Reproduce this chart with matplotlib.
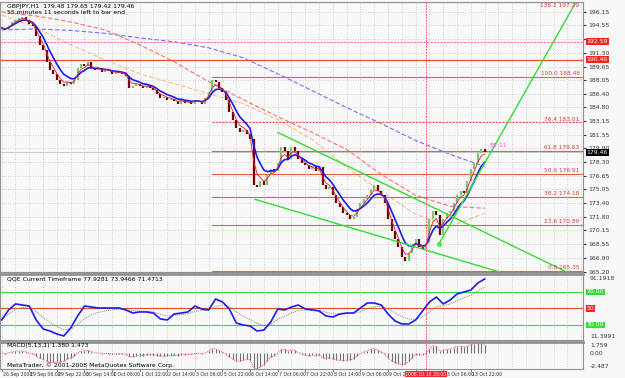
import numpy as np
import pandas as pd
import matplotlib
matplotlib.use('Agg')
import matplotlib.pyplot as plt
import matplotlib.transforms as mtransforms

plt.rcParams['font.family'] = ['Liberation Sans Narrow', 'DejaVu Sans']

# GBPJPY H1, one close for every two hourly bars
closes = [194.25, 194.01, 194.49, 194.96, 195.20, 195.44, 195.55, 195.20, 194.72, 194.49,
          193.30, 192.23, 191.64, 190.22, 189.27, 188.79, 188.08, 187.61, 187.37, 187.84,
          187.61, 188.08, 189.50, 189.98, 189.74, 190.22, 189.50, 189.27, 189.50, 189.03,
          189.27, 189.15, 188.79, 189.03, 188.91, 188.79, 188.56, 187.13, 187.37, 187.61,
          187.37, 187.13, 187.37, 187.13, 186.90, 186.42, 185.95, 186.07, 185.71, 185.83,
          185.59, 185.24, 185.71, 185.35, 185.47, 185.24, 185.71, 185.59, 185.24, 185.95,
          186.66, 188.08, 187.84, 187.13, 186.66, 185.71, 184.29, 183.34, 182.39, 181.91,
          182.15, 181.68, 180.97, 175.51, 175.27, 175.98, 175.51, 176.70, 177.41, 177.17,
          178.12, 180.02, 179.54, 178.59, 180.02, 179.54, 178.59, 178.12, 177.88, 177.41,
          177.65, 177.17, 177.65, 175.51, 175.04, 175.27, 174.32, 173.38, 172.90, 172.19,
          171.95, 171.48, 171.72, 172.66, 173.38, 173.85, 174.32, 175.04, 175.51, 174.80,
          174.32, 173.38, 171.48, 170.05, 169.11, 168.16, 166.97, 166.50, 167.45, 168.39,
          169.11, 168.16, 167.92, 168.63, 171.48, 172.43, 171.95, 169.58, 171.48, 172.19,
          172.43, 173.38, 174.32, 174.80, 174.56, 175.98, 177.41, 178.12, 179.31, 179.78,
          179.46]

# slow moving averages, sampled every 10 values
ma_idx = [0, 10, 20, 30, 40, 50, 60, 70, 80, 90, 100, 110, 120, 130, 140]
ma_blue_slow = [194.01, 194.13, 193.95, 193.60, 193.06, 192.59, 191.88, 190.69, 188.79, 186.78,
                184.76, 182.86, 180.85, 179.19, 177.76]
ma_red_slow = [196.15, 195.67, 194.96, 194.01, 192.23, 190.22, 187.84, 185.71, 183.69, 181.80,
               179.78, 176.82, 174.32, 173.02, 172.78]
ma_orange_slow = [195.79, 194.25, 192.23, 190.45, 188.79, 187.61, 186.42, 185.24, 183.34, 180.97,
                  177.65, 174.80, 172.07, 170.65, 172.19]

# QQE fast line, every second value
qqe_fast = [36.1, 48.2, 55.5, 54.2, 53.0, 36.1, 25.2, 22.7, 19.1, 16.7,
            26.4, 40.9, 53.0, 51.8, 50.6, 50.6, 50.6, 50.6, 48.2, 44.5,
            45.8, 45.8, 44.5, 37.3, 36.1, 43.3, 44.5, 45.8, 53.0, 49.4,
            48.2, 61.5, 57.9, 49.4, 32.4, 30.0, 28.8, 22.7, 23.9, 33.6,
            49.4, 48.2, 51.8, 54.2, 49.4, 48.2, 47.0, 40.9, 39.7, 43.3,
            44.5, 44.5, 50.6, 56.7, 56.7, 54.2, 43.3, 34.9, 31.2, 31.2,
            36.1, 47.0, 57.9, 63.9, 55.5, 60.3, 67.6, 70.0, 72.4, 80.9, 85.8]

# fibonacci retracement and trend lines
fib_low, fib_high = 165.35, 188.46
fib_levels = [0.0, 23.6, 38.2, 50.0, 61.8, 76.4, 100.0, 138.2]
fib_start = 61
upper_channel = ([80.1, 165.6], [181.80, 164.84])
lower_channel = ([73.4, 147.3], [173.85, 164.84])
breakout_line = ([126.7, 166.8], [168.51, 197.57])
hline_red = 190.46
hline_pink = 192.59
vline_bar = 123

price_ticks = [196.15, 194.55, 192.90, 191.30, 189.65, 188.05, 186.40, 184.80, 183.15, 181.55,
               179.90, 178.30, 176.65, 175.05, 173.40, 171.80, 170.15, 168.55, 166.90, 165.20]
time_labels = ['26 Sep 2008', '29 Sep 06:00', '29 Sep 22:00', '30 Sep 14:00', '1 Oct 06:00',
               '1 Oct 22:00', '2 Oct 14:00', '3 Oct 06:00', '5 Oct 22:00', '6 Oct 14:00',
               '7 Oct 06:00', '7 Oct 22:00', '8 Oct 14:00', '9 Oct 06:00', '9 Oct 22:00',
               '10 Oct 14:00', '13 Oct 06:00', '13 Oct 22:00']

W, H = 625, 378
bg = '#f8f8f8'
fs = 4.4

def box(x0, y0, x1, y1):
    return [x0 / W, 1 - y1 / H, (x1 - x0) / W, (y1 - y0) / H]

fig = plt.figure(figsize=(W / 100, H / 100), dpi=100, facecolor=bg)
ax = fig.add_axes(box(0, 2, 583, 272))
ax2 = fig.add_axes(box(0, 274, 583, 340), sharex=ax)
ax3 = fig.add_axes(box(0, 342, 583, 369), sharex=ax)

n = len(closes)
idx = np.arange(n)
s = pd.Series(closes)
opens = [closes[0]] + closes[:-1]

for a in (ax, ax2, ax3):
    a.set_facecolor(bg)
    a.yaxis.tick_right()
    a.tick_params(axis='y', labelsize=fs, length=2, pad=1.5, colors='#333333')
    a.tick_params(axis='x', length=0, labelbottom=False)
    a.set_xticks(np.arange(0, 169, 4))
    a.grid(axis='x', color='#c4c4c4', ls=(0, (1, 2)), lw=0.6)
    for sp in a.spines.values():
        sp.set_color('#909090')
        sp.set_linewidth(0.8)
ax.grid(axis='y', color='#c4c4c4', ls=(0, (1, 2)), lw=0.6)
ax.set_xlim(-0.49, 168.5)

# --- main price panel ---
ax.set_ylim(165.31, 197.33)
ax.set_yticks(price_ticks)
# label under the red price box is hidden
hidden = (192.90,)
ax.set_yticklabels(['' if v in hidden else '%.2f' % v for v in price_ticks])

ax.plot(ma_idx, ma_blue_slow, color='#7070ff', lw=0.8, ls=(0, (4, 2)))
ax.plot(ma_idx, ma_red_slow, color='#ff7070', lw=0.8, ls=(0, (4, 2)))
ax.plot(ma_idx, ma_orange_slow, color='#f5c08a', lw=0.8, ls=(0, (4, 2)))

ax.axhline(hline_pink, color='#ff70b0', lw=0.8, ls=(0, (2, 1)))
ax.axhline(hline_red, color='#e8503a', lw=0.9)
ax.axhline(closes[-1], color='#c0c0c0', lw=0.6)

for lvl in fib_levels:
    p = fib_low + lvl / 100 * (fib_high - fib_low)
    ls = (0, (2, 1)) if lvl in (76.4, 138.2) else '-'
    ax.plot([fib_start, 168.5], [p, p], color='#e8604a', lw=0.8, ls=ls)
    va, dy = ('top', -0.05) if lvl == 138.2 else ('bottom', 0.1)
    ax.text(167.5, p + dy, '%.1f %.2f' % (lvl, p), fontsize=fs - 0.2, color='#d04040',
            ha='right', va=va)

for o, c, i in zip(opens, closes, idx):
    col = '#7cc47c' if c >= o else '#700000'
    ax.vlines(i, min(o, c), max(o, c), color=col, lw=1.6)

ax.plot(idx, s.ewm(span=6).mean(), color='#1c1cf0', lw=1.2)
ax.plot(idx, s.ewm(span=3).mean(), color='#e02020', lw=0.6)

for xs, ys in (upper_channel, lower_channel, breakout_line):
    ax.plot(xs, ys, color='#33dd33', lw=1.0)
ax.plot(breakout_line[0][0], breakout_line[1][0], 'o', mfc='none', mec='#33dd33', ms=2.5)

ax.text(1.5, 197.1, 'GBPJPY,H1  179.48 179.65 179.42 179.46', fontsize=fs, va='top')
ax.text(1.5, 196.35, '55 minutes 11 seconds left to bar end', fontsize=fs, va='top')
ax.text(141.5, closes[-1] + 0.6, '55:11', fontsize=fs, color='#ff40ff')

trans = mtransforms.blended_transform_factory(ax.transAxes, ax.transData)
for val, txt, col in ((hline_pink, '192.59', '#ff2020'), (hline_red, '190.46', '#ff2020'),
                      (closes[-1], '179.46', '#000000')):
    ax.text(1.006, val, txt, transform=trans, fontsize=fs, color='white', va='center', zorder=5,
            bbox=dict(boxstyle='square,pad=0.15', fc=col, ec='none'))

for a in (ax, ax2, ax3):
    a.axvline(vline_bar, color='#ff6060', lw=0.7, ls=(0, (2, 1)))

# --- QQE panel ---
qidx = idx[::2]
ax2.set_ylim(11.8, 91.8)
ax2.set_yticks([])
ax2.axhline(70, color='#33dd33', lw=0.8)
ax2.axhline(30, color='#33dd33', lw=0.8)
ax2.axhline(50, color='#e05030', lw=0.8)
q = pd.Series(qqe_fast)
ax2.plot(qidx, q.ewm(span=5).mean(), color='#888888', lw=0.7, ls=(0, (1, 1)))
ax2.plot(qidx, q, color='#1c1cf0', lw=1.2)
ax2.spines['top'].set_linewidth(2)
ax2.text(1.5, 89, 'QQE Current Timeframe 77.9281 73.9466 71.4713', fontsize=fs, va='top')
trans2 = mtransforms.blended_transform_factory(ax2.transAxes, ax2.transData)
ax2.text(1.012, 89.5, '91.1918', transform=trans2, fontsize=fs, va='top', color='#333333')
ax2.text(1.012, 13.5, '11.3991', transform=trans2, fontsize=fs, va='bottom', color='#333333')
for val, txt, col in ((70, '70.00', '#33dd33'), (50, '50', '#ff2020'), (30, '30.00', '#33dd33')):
    ax2.text(1.006, val, txt, transform=trans2, fontsize=fs, color='white', va='center',
             bbox=dict(boxstyle='square,pad=0.15', fc=col, ec='none'))

# --- MACD panel ---
macd = s.ewm(span=3, adjust=False).mean() - s.ewm(span=7, adjust=False).mean()
ax3.set_ylim(-2.487, 1.759)
ax3.set_yticks([])
trans3y = mtransforms.blended_transform_factory(ax3.transAxes, ax3.transData)
ax3.text(1.012, 1.6, '1.759', transform=trans3y, fontsize=fs, va='top', color='#333333')
ax3.text(1.012, 0, '0.00', transform=trans3y, fontsize=fs, va='center', color='#333333')
ax3.text(1.012, -2.487, '-2.487', transform=trans3y, fontsize=fs, va='bottom', color='#333333')
ax3.vlines(idx, 0, macd, color='#707070', lw=0.8)
ax3.plot(idx, macd, color='#ff5050', lw=0.7, ls=(0, (1, 1)))
ax3.spines['top'].set_linewidth(2)
ax3.text(1.5, 1.6, 'MACD(5,13,1) 1.380 1.473', fontsize=fs, va='top')
ax3.text(1.5, -2.35, 'MetaTrader, \u00a9 2001-2008 MetaQuotes Software Corp.', fontsize=fs, va='bottom')

trans3 = mtransforms.blended_transform_factory(ax3.transData, ax3.transAxes)
for k, lab in enumerate(time_labels):
    j = 8 * k
    ax3.plot([j, j], [0, -0.08], transform=trans3, color='#666666', lw=0.6, clip_on=False)
    if j <= vline_bar < j + 8:
        continue  # covered by the red time box of the vertical line
    ax3.text(j + 0.3, -0.1, lab, transform=trans3, fontsize=3.3, va='top', ha='left',
             color='#333333')
ax3.text(vline_bar, -0.1, '2008.10.10 20:00', transform=trans3, fontsize=3.3, va='top',
         ha='center', color='white', zorder=5,
         bbox=dict(boxstyle='square,pad=0.1', fc='#ff2020', ec='none'))

fig.savefig('out.png', dpi=100, facecolor=bg)
